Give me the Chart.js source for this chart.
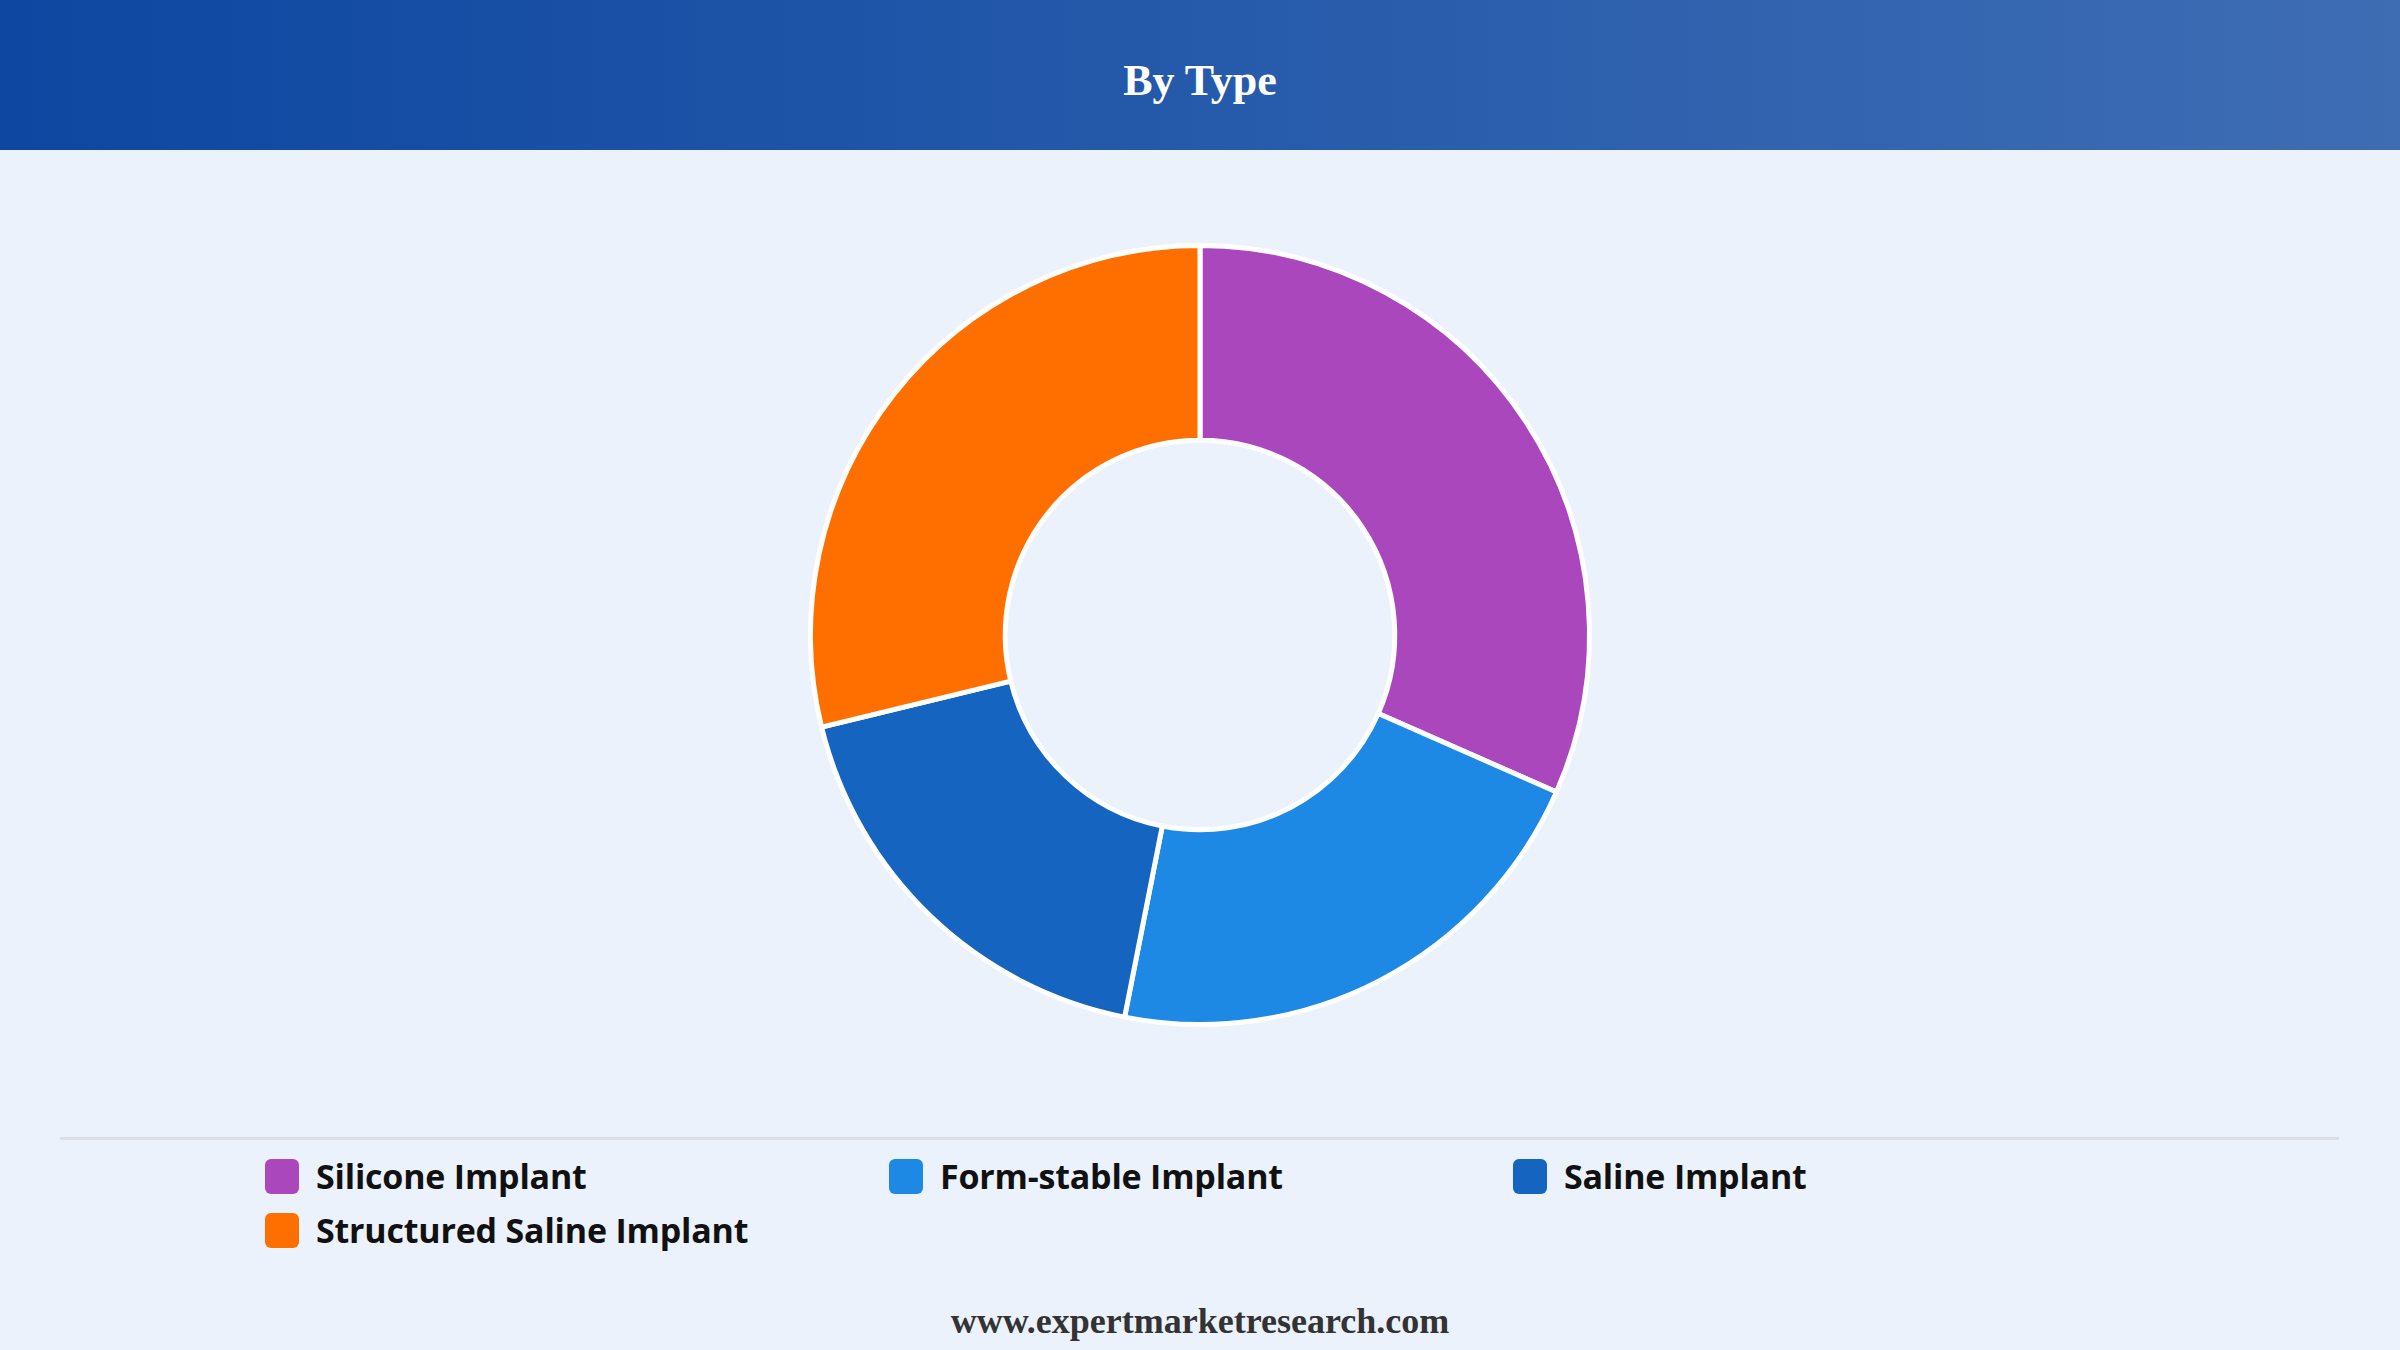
<!DOCTYPE html>
<html>
<head>
<meta charset="utf-8">
<script src="https://cdn.jsdelivr.net/npm/chart.js@4.4.1/dist/chart.umd.min.js"></script>
<style>
  html, body { margin: 0; padding: 0; }
  body {
    width: 2400px; height: 1350px; position: relative; overflow: hidden;
    background: #ebf2fb;
  }
  .header {
    position: absolute; left: 0; top: 0; width: 2400px; height: 150px;
    background: linear-gradient(to right, #0d47a1, #3e6db4);
  }
  .header h1 {
    margin: 0; position: absolute; left: 0; right: 0; top: 0;
    text-align: center; color: #fff;
    font: bold 44px "Liberation Serif", "Times New Roman", serif;
    line-height: 162px;
  }
  .chart-box { position: absolute; left: 0; top: 150px; width: 2400px; height: 970px; }
  .divider { position: absolute; left: 60px; top: 1137px; width: 2279px; height: 3px; background: #dcdfe4; }
  #legend { position: absolute; left: 265px; top: 1156px; width: 1900px; }
  .item { position: absolute; display: flex; align-items: center; height: 40px; }
  .swatch { width: 34px; height: 35px; border-radius: 6px; margin-right: 17px; }
  .item span {
    font: 700 34px "Open Sans", "Noto Sans", sans-serif; color: #111;
    letter-spacing: -0.2px; white-space: nowrap;
  }
  .footer {
    position: absolute; left: 0; right: 0; top: 1300px; text-align: center;
    font: bold 36px "Liberation Serif", "Times New Roman", serif; color: #333;
  }
</style>
</head>
<body>
<div class="header"><h1>By Type</h1></div>
<div class="chart-box"><canvas id="chart"></canvas></div>
<div class="divider"></div>
<div id="legend"></div>
<div class="footer">www.expertmarketresearch.com</div>

<script>
// --- Data ---
const categories = ['Silicone Implant', 'Form-stable Implant', 'Saline Implant', 'Structured Saline Implant']
const shares = [31.6, 21.5, 18.1, 28.8]
const colors = ['#ab47bc', '#1e88e5', '#1565c0', '#ff6f00']

const chart = new Chart(document.getElementById('chart'), {
  type: 'doughnut',
  data: {
    labels: categories,
    datasets: [{
      data: shares,
      backgroundColor: colors,
      borderColor: '#ffffff',
      borderWidth: 5
    }]
  },
  options: {
    responsive: true,
    maintainAspectRatio: false,
    animation: false,
    cutout: '50%',
    layout: { padding: 93 },
    plugins: {
      legend: { display: false },
      tooltip: { enabled: false }
    }
  }
})

// --- HTML legend, 3 columns ---
const legendEl = document.getElementById('legend')
const colW = 624, rowH = 54
const items = Chart.controllers.doughnut.overrides.plugins.legend.labels.generateLabels(chart)
items.forEach((it, i) => {
  const div = document.createElement('div')
  div.className = 'item'
  div.style.left = (i % 3) * colW + 'px'
  div.style.top = Math.floor(i / 3) * rowH + 'px'
  div.innerHTML = '<div class="swatch" style="background:' + it.fillStyle + '"></div><span>' + it.text + '</span>'
  legendEl.appendChild(div)
})
</script>
</body>
</html>
